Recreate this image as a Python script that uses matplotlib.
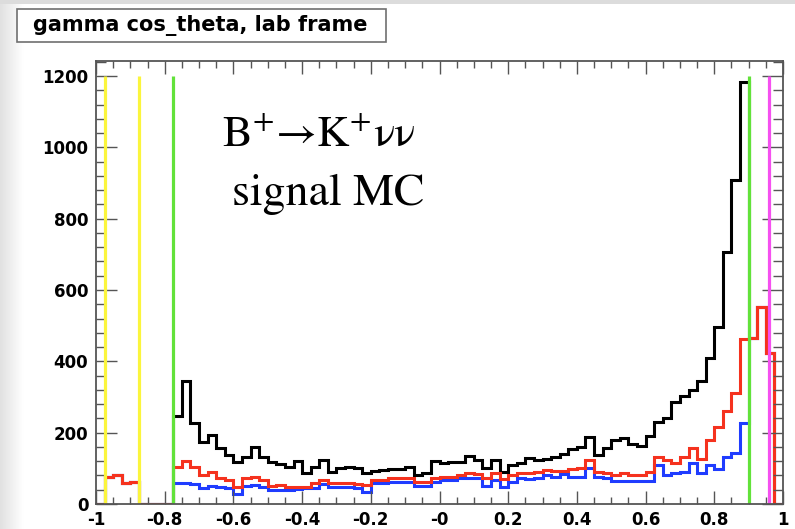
import numpy as np
import matplotlib.pyplot as plt
from matplotlib.patches import Rectangle
from matplotlib.ticker import MultipleLocator

plt.rcParams["mathtext.fontset"] = "stix"

# gamma cos(theta) in the lab frame, 80 bins on [-1, 1]
bin_edges = np.linspace(-1.0, 1.0, 81)

all_gammas = [
    0, 77, 81, 58, 62, 0, 0, 0, 0, 247,
    346, 228, 175, 193, 156, 137, 119, 133, 159, 133,
    119, 112, 103, 121, 86, 103, 123, 91, 100, 103,
    100, 88, 93, 95, 97, 98, 103, 81, 88, 121,
    116, 119, 119, 135, 123, 100, 123, 91, 109, 116,
    128, 123, 125, 133, 140, 155, 161, 189, 137, 156,
    179, 184, 168, 163, 191, 231, 240, 287, 303, 320,
    346, 408, 497, 707, 908, 1184, 465, 553, 423, 0,
]
red_gammas = [
    0, 77, 81, 58, 62, 0, 0, 0, 0, 103,
    121, 104, 81, 91, 72, 66, 48, 72, 75, 66,
    51, 54, 48, 48, 48, 58, 67, 60, 58, 58,
    56, 53, 67, 67, 72, 72, 72, 63, 63, 72,
    77, 77, 81, 86, 84, 72, 86, 69, 81, 88,
    88, 91, 95, 93, 92, 97, 100, 123, 91, 86,
    81, 86, 81, 81, 91, 133, 123, 114, 133, 156,
    125, 180, 215, 260, 312, 462, 465, 553, 423, 0,
]
blue_gammas = [
    0, 77, 81, 58, 62, 0, 0, 0, 0, 60,
    60, 56, 44, 51, 49, 44, 28, 51, 54, 49,
    38, 38, 38, 41, 44, 46, 56, 48, 48, 48,
    44, 35, 58, 58, 63, 63, 63, 50, 50, 63,
    67, 67, 74, 74, 72, 50, 67, 48, 63, 74,
    69, 72, 81, 77, 84, 77, 77, 100, 77, 72,
    65, 65, 65, 65, 65, 109, 81, 86, 91, 114,
    86, 109, 97, 133, 144, 228, 465, 553, 423, 0,
]

# cut lines
yellow_cuts = [-0.975, -0.875]
green_cuts = [-0.775, 0.9]
magenta_cuts = [0.96]

x_ticks = [-1, -0.8, -0.6, -0.4, -0.2, 0, 0.2, 0.4, 0.6, 0.8, 1]
x_tick_labels = ["-1", "-0.8", "-0.6", "-0.4", "-0.2", "-0", "0.2", "0.4", "0.6", "0.8", "1"]
y_ticks = [0, 200, 400, 600, 800, 1000, 1200]

W, H = 795, 529
fig = plt.figure(figsize=(W / 100, H / 100), dpi=100)
fig.patch.set_facecolor("white")

# grey window edge on the left and top
gax = fig.add_axes([0, 0, 24 / W, 1])
gax.imshow(np.linspace(0.88, 1.0, 64)[None, :], cmap="gray", vmin=0, vmax=1,
           aspect="auto")
gax.axis("off")
fig.patches.append(Rectangle((0, 1 - 4 / H), 1, 4 / H, transform=fig.transFigure,
                             facecolor="#dcdcdc", edgecolor="none"))

ax = fig.add_axes([96 / W, 1 - 504 / H, (783 - 96) / W, (504 - 61) / H])

ax.stairs(all_gammas, bin_edges, color="black", lw=2.2, baseline=None)
ax.stairs(blue_gammas, bin_edges, color="#1f3cff", lw=2.2, baseline=None)
ax.stairs(red_gammas, bin_edges, color="#f5321e", lw=2.2, baseline=None)

ax.vlines(yellow_cuts, 0, 1200, colors="#fbf53c", lw=2.3)
ax.vlines(green_cuts, 0, 1200, colors="#62e23a", lw=2.3)
ax.vlines(magenta_cuts, 0, 1200, colors="#f550f0", lw=2.3)

ax.set_xlim(-1, 1)
ax.set_ylim(0, 1242)
ax.set_xticks(x_ticks)
ax.set_xticklabels(x_tick_labels)
ax.set_yticks(y_ticks)
ax.xaxis.set_minor_locator(MultipleLocator(0.05))
ax.yaxis.set_minor_locator(MultipleLocator(40))

for side in ax.spines.values():
    side.set_color("#555555")
    side.set_linewidth(1.3)

ax.tick_params(axis="both", which="both", direction="in", colors="#555555",
               top=True, right=True, width=1.0, labelcolor="black")
ax.tick_params(axis="x", which="major", length=9.4, pad=5)
ax.tick_params(axis="x", which="minor", length=4.7)
ax.tick_params(axis="y", which="major", length=14.8, pad=5.5)
ax.tick_params(axis="y", which="minor", length=7.4)
for lab in ax.get_xticklabels() + ax.get_yticklabels():
    lab.set_fontweight("bold")
    lab.set_fontsize(12)

# title pave
fig.patches.append(Rectangle((17 / W, 1 - 42 / H), 369 / W, 33 / H,
                             transform=fig.transFigure, facecolor="white",
                             edgecolor="#707070", lw=1.2))
fig.text(33 / W, 1 - 25.5 / H, "gamma cos_theta, lab frame", fontsize=15,
         fontweight="bold", va="center", ha="left")

# labels inside the frame
fig.text(222 / W, 1 - 147 / H, r"B$^{+}$→K$^{+}$νν",
         family="STIXGeneral", fontsize=32, va="baseline", ha="left")
fig.text(232 / W, 1 - 205 / H, "signal MC", family="STIXGeneral", fontsize=33,
         va="baseline", ha="left")

fig.savefig("out.png", dpi=100)
